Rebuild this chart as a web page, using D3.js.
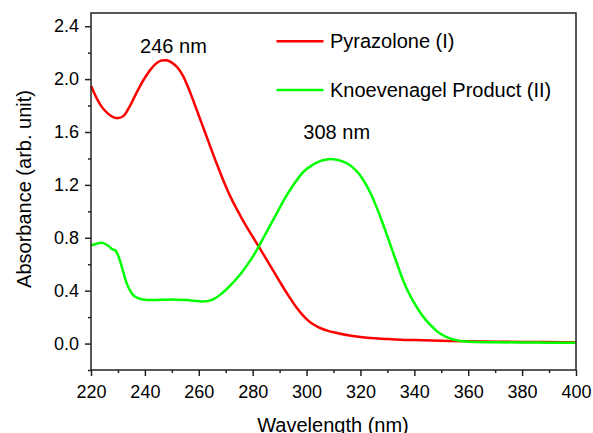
<!DOCTYPE html>
<html>
<head>
<meta charset="utf-8">
<script src="https://cdn.jsdelivr.net/npm/d3@7"></script>
<style>
  html, body { margin: 0; padding: 0; background: #fff; }
  svg { display: block; font-family: "Liberation Sans", Arial, sans-serif; }
</style>
</head>
<body>
<svg id="chart" width="593" height="433"></svg>
<script>
// ---- Data ----
const pyrazoloneWavelength = [220,222,224,226,228,230,232,234,236,238,240,242,244,246,248,250,252,254,256,258,260,262,264,266,268,270,272,274,276,278,280,282,284,286,288,290,292,294,296,298,300,302,304,306,308,310,312,316,320,325,330,335,340,350,360,370,380,390,400];
const pyrazoloneAbs = [1.95,1.86,1.79,1.745,1.715,1.705,1.72,1.78,1.86,1.94,2.01,2.07,2.115,2.14,2.142,2.125,2.09,2.03,1.94,1.835,1.725,1.615,1.505,1.395,1.29,1.19,1.10,1.02,0.945,0.875,0.808,0.742,0.675,0.607,0.538,0.47,0.403,0.34,0.28,0.228,0.185,0.152,0.128,0.11,0.096,0.085,0.076,0.061,0.05,0.04,0.034,0.029,0.026,0.021,0.017,0.014,0.012,0.011,0.01];

const productWavelength = [220,222,224,226,228,229,230,231,232,233,234,235,236,238,240,244,248,252,256,258,260,262,264,266,268,270,272,274,276,278,280,282,284,286,288,290,292,294,296,298,300,302,304,306,308,310,312,314,316,318,320,322,324,326,328,330,332,334,336,338,340,342,344,346,348,350,352,354,356,358,360,370,380,390,400];
const productAbs = [0.742,0.755,0.762,0.745,0.712,0.705,0.67,0.61,0.54,0.47,0.42,0.385,0.36,0.34,0.332,0.33,0.332,0.332,0.329,0.324,0.32,0.319,0.325,0.342,0.37,0.405,0.445,0.49,0.54,0.595,0.655,0.725,0.80,0.875,0.95,1.025,1.10,1.165,1.225,1.28,1.32,1.348,1.37,1.386,1.394,1.394,1.386,1.372,1.35,1.315,1.27,1.205,1.125,1.03,0.925,0.81,0.695,0.58,0.47,0.38,0.305,0.24,0.185,0.14,0.1,0.07,0.048,0.033,0.024,0.018,0.014,0.01,0.008,0.007,0.007];

const seriesNames = ["Pyrazolone (I)", "Knoevenagel Product (II)"];
const seriesColors = ["#ff0000", "#00ff00"];
const xTicks = [220,240,260,280,300,320,340,360,380,400];
const yTicks = [0.0,0.4,0.8,1.2,1.6,2.0,2.4];
const peakLabels = ["246 nm", "308 nm"];
const peakLabelAnchors = [[250.6, 2.2], [311.2, 1.545]];

// ---- Layout ----
const W = 593, H = 433;
const margin = {left: 91, top: 13, right: 17, bottom: 63};
const iw = W - margin.left - margin.right;
const ih = H - margin.top - margin.bottom;

const svg = d3.select("#chart");
const g = svg.append("g").attr("transform", `translate(${margin.left},${margin.top})`);

const x = d3.scaleLinear().domain([220, 400]).range([0, iw]);
const y = d3.scaleLinear().domain([-0.2, 2.5]).range([ih, 0]);

const axisColor = "#222";
const font = "'Liberation Sans', Arial, sans-serif";

// minor ticks
const xMinor = d3.range(230, 400, 20);
const yMinor = d3.range(-0.2, 2.45, 0.4).map(v => +v.toFixed(2));

g.append("g").attr("transform", `translate(0,${ih})`)
  .call(d3.axisBottom(x).tickValues(xMinor).tickSize(3).tickFormat(""))
  .call(a => a.select(".domain").remove())
  .call(a => a.selectAll("line").attr("stroke", axisColor).attr("stroke-width", 1.5));

g.append("g")
  .call(d3.axisLeft(y).tickValues(yMinor).tickSize(3).tickFormat(""))
  .call(a => a.select(".domain").remove())
  .call(a => a.selectAll("line").attr("stroke", axisColor).attr("stroke-width", 1.5));

// major axes
g.append("g").attr("transform", `translate(0,${ih})`)
  .call(d3.axisBottom(x).tickValues(xTicks).tickSize(6).tickPadding(9.5).tickFormat(d3.format("d")))
  .call(a => a.select(".domain").remove())
  .call(a => a.selectAll("line").attr("stroke", axisColor).attr("stroke-width", 1.5))
  .call(a => a.selectAll("text").attr("fill", "#000").style("font-size", "18px").style("font-family", font));

g.append("g")
  .call(d3.axisLeft(y).tickValues(yTicks).tickSize(6).tickPadding(6).tickFormat(d3.format(".1f")))
  .call(a => a.select(".domain").remove())
  .call(a => a.selectAll("line").attr("stroke", axisColor).attr("stroke-width", 1.5))
  .call(a => a.selectAll("text").attr("fill", "#000").style("font-size", "18px").style("font-family", font));

// lines
const line = d3.line().x(d => x(d[0])).y(d => y(d[1])).curve(d3.curveCatmullRom.alpha(0.5));
const dataRed = pyrazoloneWavelength.map((w, i) => [w, pyrazoloneAbs[i]]);
const dataGreen = productWavelength.map((w, i) => [w, productAbs[i]]);

g.append("path").datum(dataRed).attr("d", line)
  .attr("fill", "none").attr("stroke", seriesColors[0]).attr("stroke-width", 2.5);
g.append("path").datum(dataGreen).attr("d", line)
  .attr("fill", "none").attr("stroke", seriesColors[1]).attr("stroke-width", 2.5);

// frame
g.append("rect").attr("x", 0).attr("y", 0).attr("width", iw).attr("height", ih)
  .attr("fill", "none").attr("stroke", axisColor).attr("stroke-width", 1.5);

// peak labels
peakLabels.forEach((t, i) => {
  g.append("text")
    .attr("x", x(peakLabelAnchors[i][0]))
    .attr("y", y(peakLabelAnchors[i][1]))
    .attr("text-anchor", "middle")
    .style("font-size", "20px")
    .attr("fill", "#000")
    .text(t);
});

// legend
const legendY = [41.3, 90];
seriesNames.forEach((name, i) => {
  svg.append("line")
    .attr("x1", 276.5).attr("x2", 323.5)
    .attr("y1", legendY[i]).attr("y2", legendY[i])
    .attr("stroke", seriesColors[i]).attr("stroke-width", 2.5);
  svg.append("text")
    .attr("x", 330).attr("y", legendY[i] + 6.8)
    .style("font-size", "20px").attr("fill", "#000")
    .text(name);
});

// axis titles
svg.append("text")
  .attr("x", margin.left + iw / 2 - 0.5).attr("y", 431.5)
  .attr("text-anchor", "middle")
  .style("font-size", "20px").attr("fill", "#000")
  .text("Wavelength (nm)");

svg.append("text")
  .attr("transform", `translate(31,189) rotate(-90)`)
  .attr("text-anchor", "middle")
  .style("font-size", "20px").attr("fill", "#000")
  .text("Absorbance (arb. unit)");
</script>
</body>
</html>
